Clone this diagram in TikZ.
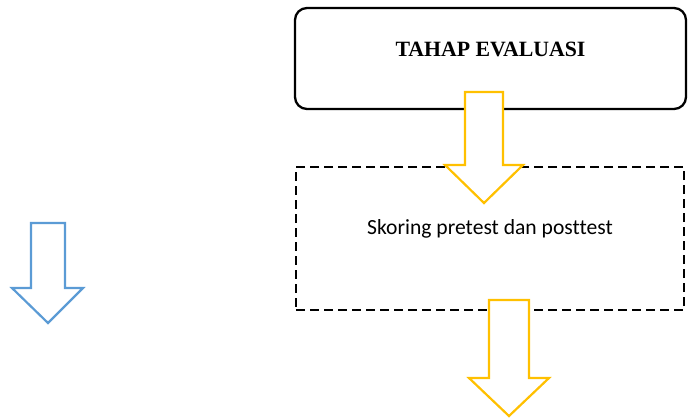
\documentclass[tikz,border=0pt]{standalone}
\usepackage{fontspec}
\setmainfont{Liberation Serif}
\newfontfamily\bodyfont[Ligatures=NoCommon]{Carlito}
\usepackage{tikz}
\usetikzlibrary{positioning}

\definecolor{arrowyellow}{HTML}{FFC000}
\definecolor{arrowblue}{HTML}{5B9BD5}

\tikzset{
    stagebox/.style={draw, line width=2.3pt, rounded corners=12pt, minimum width=391pt, minimum height=101pt},
    taskbox/.style={draw, line width=2.3pt, dash pattern=on 9pt off 5pt, minimum width=388pt, minimum height=143pt},
    yellowarrow/.style={draw=arrowyellow, fill=white, line width=2.2pt, line join=miter},
    bluearrow/.style={draw=arrowblue, fill=white, line width=2.2pt, line join=miter}
}

\begin{document}
\begin{tikzpicture}[x=1pt,y=-1pt]
    \useasboundingbox (0,0) rectangle (688,418);

    \node[stagebox] (evalbox) at (490.5,58.5) {};
    \node[font=\fontsize{21.8}{24}\selectfont\bfseries] (evaltitle) at ([yshift=9.5pt]evalbox.center) {TAHAP EVALUASI};

    \node[taskbox] (scorebox) at (490,238.5) {};
    \node[font=\bodyfont\fontsize{21.6}{24}\selectfont] (scoretext) at ([yshift=9.5pt]scorebox.center) {Skoring pretest dan posttest};

    % block arrows
    \draw[yellowarrow] (465,92) -- (503,92) -- (503,165) -- (523,165) -- (484,203) -- (445,165) -- (465,165) -- cycle;
    \draw[yellowarrow] (489,300) -- (529,300) -- (529,378) -- (549,378) -- (509,416) -- (469,378) -- (489,378) -- cycle;
    \draw[bluearrow] (31,223) -- (65,223) -- (65,288) -- (83,288) -- (48,323) -- (12,288) -- (31,288) -- cycle;
\end{tikzpicture}
\end{document}
